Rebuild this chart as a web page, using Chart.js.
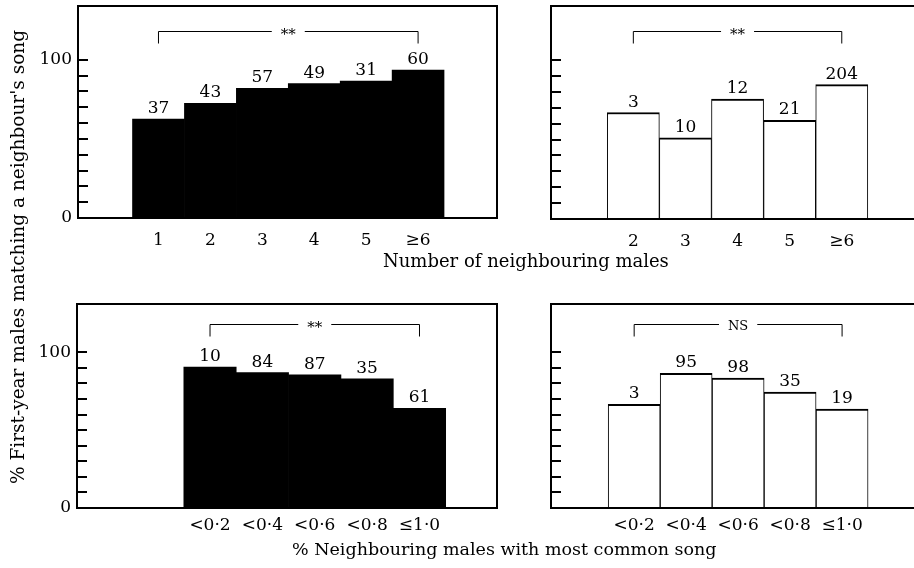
<!DOCTYPE html>
<html>
<head>
<meta charset="utf-8">
<script src="https://cdn.jsdelivr.net/npm/chart.js@4.4.1/dist/chart.umd.min.js"></script>
<style>
    html, body { margin: 0; padding: 0; background: #fff; overflow: hidden; width: 914px; height: 568px; }
    canvas { position: absolute; }
    .axis-title { position: absolute; font-family: 'DejaVu Serif', serif; color: #000; white-space: nowrap; }
    #xtitle1 { left: 383px; top: 250px; font-size: 18px; }
    #xtitle2 { left: 292px; top: 539px; font-size: 17.5px; }
    #ytitle { left: -282px; top: 246px; width: 600px; height: 22px; line-height: 22px; text-align: center; transform: rotate(-90deg); font-size: 18.5px; }
</style>
</head>
<body>
<canvas id="tl" width="500" height="290" style="left:0;top:0"></canvas>
<canvas id="tr" width="510" height="290" style="left:470px;top:0"></canvas>
<canvas id="bl" width="500" height="250" style="left:0;top:290px"></canvas>
<canvas id="br" width="510" height="250" style="left:470px;top:290px"></canvas>
<div class="axis-title" id="xtitle1">Number of neighbouring males</div>
<div class="axis-title" id="xtitle2">% Neighbouring males with most common song</div>
<div class="axis-title" id="ytitle">% First-year males matching a neighbour's song</div>
<script>
// categories
const neighbourCatsA = ['1', '2', '3', '4', '5', '≥6'];
const neighbourCatsB = ['2', '3', '4', '5', '≥6'];
const commonSongCats = ['<0·2', '<0·4', '<0·6', '<0·8', '≤1·0'];

// % first-year males matching a neighbour's song
const matchTopLeft = [62.5, 72.5, 82, 85, 86.5, 93.5];
const matchTopRight = [67, 51, 75.5, 62, 84.5];
const matchBottomLeft = [90.5, 87, 85.5, 83, 64];
const matchBottomRight = [66.5, 86.5, 83.5, 74.5, 63.5];

// sample sizes written above the bars
const nTopLeft = [37, 43, 57, 49, 31, 60];
const nTopRight = [3, 10, 12, 21, 204];
const nBottomLeft = [10, 84, 87, 35, 61];
const nBottomRight = [3, 95, 98, 35, 19];

// significance labels
const sigTopLeft = '**';
const sigTopRight = '**';
const sigBottomLeft = '**';
const sigBottomRight = 'NS';

// y axis
const yTickValues = [0, 10, 20, 30, 40, 50, 60, 70, 80, 90, 100];
const yLabelValues = [0, 100];

const FONT = "'DejaVu Serif', serif";

// frame around the plot + tick marks pointing inwards
const framePlugin = {
    id: 'frame',
    afterDraw(chart) {
        const ctx = chart.ctx;
        const a = chart.chartArea;
        const y = chart.scales.y;
        ctx.save();
        ctx.strokeStyle = '#000';
        ctx.lineWidth = 2;
        ctx.strokeRect(a.left, a.top, a.right - a.left, a.bottom - a.top);
        y.ticks.forEach(t => {
            if (t.value === 0) return;
            const py = Math.round(y.getPixelForValue(t.value));
            ctx.beginPath();
            ctx.moveTo(a.left, py);
            ctx.lineTo(a.left + 10, py);
            ctx.stroke();
        });
        ctx.restore();
    }
};

// sample sizes above bars + significance bracket
const annotatePlugin = {
    id: 'annotate',
    afterDatasetsDraw(chart, args, opts) {
        const ctx = chart.ctx;
        const meta = chart.getDatasetMeta(0);
        ctx.save();
        ctx.fillStyle = '#000';
        ctx.font = '17px ' + FONT;
        ctx.textAlign = 'center';
        ctx.textBaseline = 'alphabetic';
        meta.data.forEach((bar, i) => {
            ctx.fillText(String(opts.counts[i]), bar.x, bar.y - 6);
        });

        // bracket
        const xs = chart.scales.x, ys = chart.scales.y;
        const x1 = xs.getPixelForValue(0);
        const x2 = xs.getPixelForValue(opts.counts.length - 1);
        const ly = Math.round(ys.getPixelForValue(opts.bracketLevel)) + 0.5;
        const mid = (x1 + x2) / 2;
        ctx.font = opts.sigFont + ' ' + FONT;
        const m = ctx.measureText(opts.sig);
        const gap = m.width / 2 + 9;
        ctx.strokeStyle = '#000';
        ctx.lineWidth = 1;
        ctx.beginPath();
        ctx.moveTo(x1, ly + 12);
        ctx.lineTo(x1, ly);
        ctx.lineTo(mid - gap, ly);
        ctx.moveTo(mid + gap, ly);
        ctx.lineTo(x2, ly);
        ctx.lineTo(x2, ly + 12);
        ctx.stroke();
        ctx.fillText(opts.sig, mid, ly + (m.actualBoundingBoxAscent - m.actualBoundingBoxDescent) / 2);
        ctx.restore();
    }
};

function makePanel(id, cfg) {
    const canvas = document.getElementById(id);
    const ctx = canvas.getContext('2d');
    const filled = cfg.filled;
    return new Chart(ctx, {
        type: 'bar',
        data: {
            datasets: [{
                data: cfg.values.map((v, i) => ({ x: i, y: v })),
                backgroundColor: filled ? '#000' : '#fff',
                borderColor: '#000',
                borderWidth: filled ? 0 : { top: 2, left: 1, right: 1, bottom: 0 },
                borderSkipped: 'bottom',
                barPercentage: 1,
                categoryPercentage: 1
            }]
        },
        options: {
            responsive: false,
            animation: false,
            events: [],
            layout: { autoPadding: false, padding: cfg.padding },
            plugins: {
                legend: { display: false },
                tooltip: { enabled: false },
                annotate: {
                    counts: cfg.counts,
                    sig: cfg.sig,
                    sigFont: cfg.sig === 'NS' ? '13px' : '15px',
                    bracketLevel: 118
                }
            },
            scales: {
                x: {
                    type: 'linear',
                    min: cfg.xMin,
                    max: cfg.xMax,
                    offset: false,
                    grid: { display: false, drawTicks: false, offset: false },
                    border: { display: false },
                    afterBuildTicks: (scale) => { scale.ticks = cfg.cats.map((c, i) => ({ value: i })); },
                    afterFit: (scale) => {
                        scale.height = cfg.xHeight;
                        scale.paddingLeft = 0;
                        scale.paddingRight = 0;
                    },
                    ticks: {
                        autoSkip: false,
                        maxRotation: 0,
                        padding: cfg.xPad,
                        color: '#000',
                        font: { family: FONT, size: 17 },
                        callback: (v) => cfg.cats[v]
                    }
                },
                y: {
                    min: 0,
                    max: cfg.yMax,
                    grid: { display: false, drawTicks: false },
                    border: { display: false },
                    afterBuildTicks: (scale) => { scale.ticks = yTickValues.map(v => ({ value: v })); },
                    afterFit: (scale) => {
                        scale.width = cfg.yWidth;
                        scale.paddingTop = 0;
                        scale.paddingBottom = 0;
                    },
                    ticks: {
                        autoSkip: false,
                        padding: 6,
                        color: '#000',
                        font: { family: FONT, size: 17 },
                        callback: (v) => (cfg.yLabels && yLabelValues.includes(v)) ? String(v) : ''
                    }
                }
            }
        },
        plugins: [annotatePlugin, framePlugin]
    });
}

makePanel('tl', {
    cats: neighbourCatsA, values: matchTopLeft, counts: nTopLeft, sig: sigTopLeft, filled: true,
    xMin: -1.55, xMax: 6.52, yMax: 134, yWidth: 78, xHeight: 72, xPad: 12, yLabels: true,
    padding: { left: 0, right: 3, top: 6, bottom: 0 }
});
makePanel('tr', {
    cats: neighbourCatsB, values: matchTopRight, counts: nTopRight, sig: sigTopRight, filled: false,
    xMin: -1.58, xMax: 6.48, yMax: 134, yWidth: 81, xHeight: 71, xPad: 12, yLabels: false,
    padding: { left: 0, right: 9, top: 6, bottom: 0 }
});
makePanel('bl', {
    cats: commonSongCats, values: matchBottomLeft, counts: nBottomLeft, sig: sigBottomLeft, filled: true,
    xMin: -2.54, xMax: 5.48, yMax: 131, yWidth: 77, xHeight: 32, xPad: 7, yLabels: true,
    padding: { left: 0, right: 3, top: 14, bottom: 0 }
});
makePanel('br', {
    cats: commonSongCats, values: matchBottomRight, counts: nBottomRight, sig: sigBottomRight, filled: false,
    xMin: -1.6, xMax: 6.48, yMax: 131, yWidth: 81, xHeight: 32, xPad: 7, yLabels: false,
    padding: { left: 0, right: 9, top: 14, bottom: 0 }
});
</script>
</body>
</html>
